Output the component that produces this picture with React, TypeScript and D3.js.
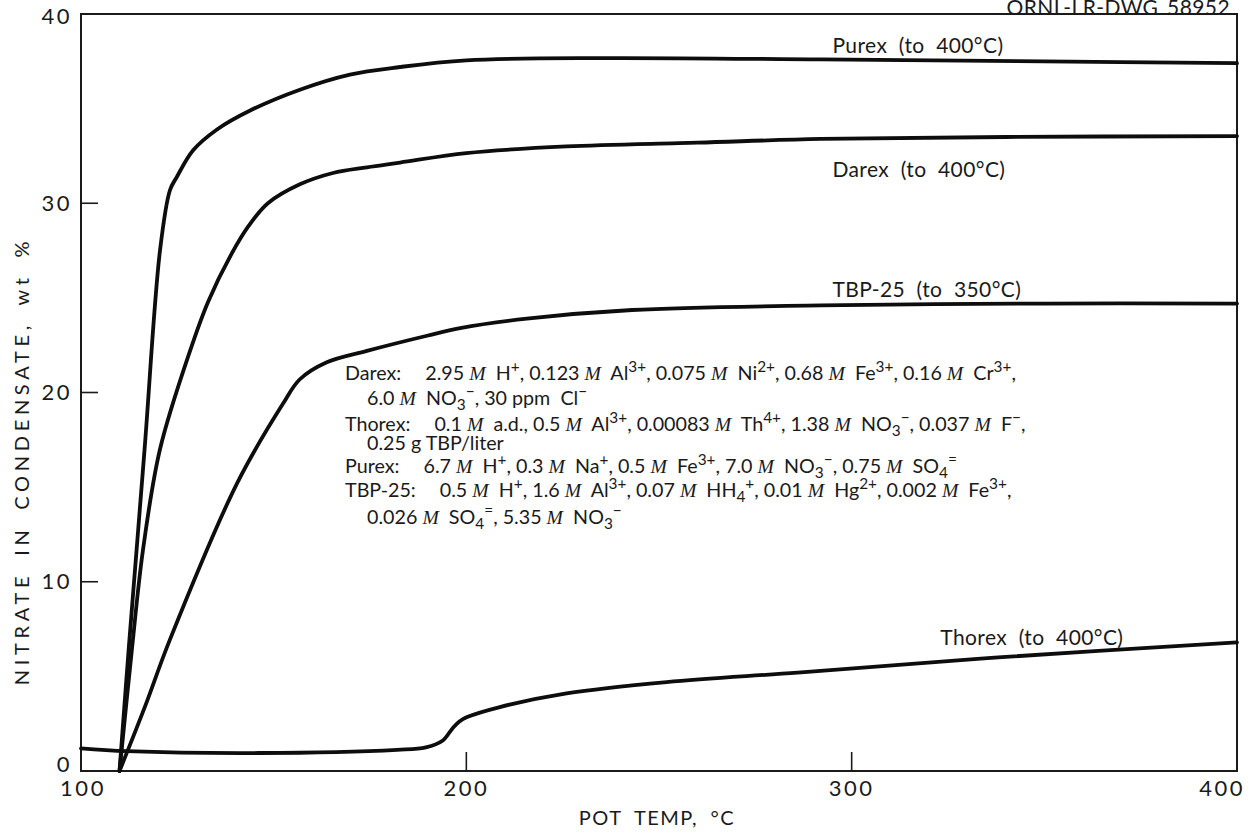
import React from 'react';
import * as d3 from 'd3';

// ---- data ----
const purexTemp = [110, 112.4, 116.5, 120.5, 123.1, 124.9, 129.1, 135.3, 143.9, 156.8, 169.8, 182.8, 200, 235, 292, 350, 400];
const purexNitrate = [0, 6.5, 17, 27.5, 30.7, 31.4, 32.8, 33.9, 34.9, 36.0, 36.8, 37.2, 37.55, 37.67, 37.6, 37.5, 37.4];

const darexTemp = [110, 113.2, 116.1, 120.5, 128.3, 133, 139, 143.5, 148.5, 156.8, 165.4, 174.2, 182.8, 200, 226, 260, 292, 340, 400];
const darexNitrate = [0, 6.4, 11.7, 17, 22.2, 24.8, 27.3, 28.8, 30.0, 31.0, 31.6, 31.9, 32.15, 32.65, 33.0, 33.2, 33.4, 33.5, 33.55];

const tbpTemp = [110, 116.6, 123, 140.5, 152.4, 156.8, 163.8, 174.2, 189.8, 198.4, 215.7, 243, 292, 350, 400];
const tbpNitrate = [0, 3.4, 6.9, 15.2, 19.4, 20.7, 21.6, 22.2, 23.0, 23.4, 23.9, 24.36, 24.6, 24.7, 24.7];

const thorexTemp = [100, 112, 146, 182, 189.5, 193.8, 196.4, 198.2, 200.2, 208.7, 226, 252, 286, 338, 400];
const thorexNitrate = [1.2, 1.05, 0.95, 1.12, 1.25, 1.6, 2.25, 2.62, 2.85, 3.38, 4.1, 4.7, 5.2, 6.0, 6.8];

const xTicks = [100, 200, 300, 400];
const yTicks = [0, 10, 20, 30, 40];

const seriesNames = ['Purex  (to  400°C)', 'Darex  (to  400°C)', 'TBP-25  (to  350°C)', 'Thorex  (to  400°C)'];
// label anchors in data units [temp, wt%]
const labelTemps = [295, 295, 295, 323];
const labelValues = [37.95, 31.4, 25.05, 6.66];

// {T} = wide gap after the heading, leading "  " = indented continuation line
const noteLines = [
  'Darex:{T}2.95 {M}  H^{+}, 0.123 {M}  Al^{3+}, 0.075 {M}  Ni^{2+}, 0.68 {M}  Fe^{3+}, 0.16 {M}  Cr^{3+},',
  '  6.0 {M}  NO_{3}^{−}, 30 ppm  Cl^{−}',
  'Thorex:{T}0.1 {M}  a.d., 0.5 {M}  Al^{3+}, 0.00083 {M}  Th^{4+}, 1.38 {M}  NO_{3}^{−}, 0.037 {M}  F^{−},',
  '  0.25 g TBP/liter',
  'Purex:{T}6.7 {M}  H^{+}, 0.3 {M}  Na^{+}, 0.5 {M}  Fe^{3+}, 7.0 {M}  NO_{3}^{−}, 0.75 {M}  SO_{4}^{=}',
  'TBP-25:{T}0.5 {M}  H^{+}, 1.6 {M}  Al^{3+}, 0.07 {M}  HH_{4}^{+}, 0.01 {M}  Hg^{2+}, 0.002 {M}  Fe^{3+},',
  '  0.026 {M}  SO_{4}^{=}, 5.35 {M}  NO_{3}^{−}',
];
const noteBaselines = [380, 405, 431, 450, 473, 497, 524];

const FONT = 'Lato, "Open Sans", sans-serif';
const INK = '#1a1a1a';

type Tok = { t: string; k: 'n' | 'm' | 'sup' | 'sub' | 'gap' };
function parse(s: string): Tok[] {
  const parts = s.split(/(\{M\}|\{T\}|\^\{[^}]*\}|_\{[^}]*\})/).filter((p) => p.length);
  return parts.map((p) => {
    if (p === '{M}') return { t: 'M', k: 'm' };
    if (p === '{T}') return { t: '', k: 'gap' };
    if (p.startsWith('^{')) return { t: p.slice(2, -1), k: 'sup' };
    if (p.startsWith('_{')) return { t: p.slice(2, -1), k: 'sub' };
    return { t: p, k: 'n' };
  });
}

function Rich({ s, x, y, size }: { s: string; x: number; y: number; size: number }) {
  const indented = s.startsWith('  ');
  const toks = parse(indented ? s.slice(2) : s);
  let cur = 0;
  let pendingDx = 0;
  return (
    <text
      x={x + (indented ? 22 : 0)}
      y={y}
      fontFamily={FONT}
      fontSize={size}
      fill={INK}
      xmlSpace="preserve"
      style={{ whiteSpace: 'pre' }}
    >
      {toks.map((tk, i) => {
        if (tk.k === 'gap') {
          pendingDx = 24;
          return null;
        }
        const off = tk.k === 'sup' ? -8 : tk.k === 'sub' ? 5 : 0;
        const dy = off - cur;
        cur = off;
        const dx = pendingDx;
        pendingDx = 0;
        if (tk.k === 'm')
          return (
            <tspan key={i} dx={dx || undefined} dy={dy} fontFamily='"Liberation Serif", serif' fontStyle="italic">
              {tk.t}
            </tspan>
          );
        return (
          <tspan key={i} dx={dx || undefined} dy={dy} fontSize={tk.k === 'n' ? size : size * 0.78}>
            {tk.t}
          </tspan>
        );
      })}
    </text>
  );
}

export default function App() {
  const W = 1259;
  const H = 833;
  const x = d3.scaleLinear().domain([100, 400]).range([81, 1237]);
  const y = d3.scaleLinear().domain([0, 40]).range([771, 14]);

  const line = d3
    .line<[number, number]>()
    .x((d) => x(d[0]))
    .y((d) => y(d[1]))
    .curve(d3.curveCatmullRom.alpha(0.5));

  const series: [number[], number[]][] = [
    [purexTemp, purexNitrate],
    [darexTemp, darexNitrate],
    [tbpTemp, tbpNitrate],
    [thorexTemp, thorexNitrate],
  ];

  return (
    <svg
      width={W}
      height={H}
      viewBox={`0 0 ${W} ${H}`}
      style={{ position: 'absolute', left: 0, top: 0, background: '#fff' }}
    >
      <rect x={0} y={0} width={W} height={H} fill="#fff" />
      {/* frame */}
      <rect
        x={x(100)}
        y={y(40)}
        width={x(400) - x(100)}
        height={y(0) - y(40)}
        fill="none"
        stroke={INK}
        strokeWidth={2}
      />
      {/* ticks */}
      {yTicks
        .filter((v) => v > 0 && v < 40)
        .map((v) => (
          <line key={'yt' + v} x1={x(100)} x2={x(100) + 17} y1={y(v)} y2={y(v)} stroke={INK} strokeWidth={1.6} />
        ))}
      {xTicks
        .filter((v) => v > 100 && v < 400)
        .map((v) => (
          <line key={'xt' + v} x1={x(v)} x2={x(v)} y1={y(0)} y2={y(0) - 19} stroke={INK} strokeWidth={1.6} />
        ))}
      {/* y tick labels */}
      {yTicks.map((v) => (
        <text
          key={'yl' + v}
          x={x(100) - 9}
          y={y(v) + (v === 0 ? -8 : v === 40 ? 1.5 : -1)}
          textAnchor="end"
          dominantBaseline="central"
          fontFamily={FONT}
          fontSize={22}
          letterSpacing={2.5}
          fill={INK}
        >
          {v}
        </text>
      ))}
      {/* x tick labels */}
      {xTicks.map((v) => (
        <text
          key={'xl' + v}
          x={v === 400 ? x(v) + 8 : x(v) + (v === 100 ? 2 : 0)}
          y={y(0) + 25}
          textAnchor={v === 400 ? 'end' : 'middle'}
          fontFamily={FONT}
          fontSize={22}
          letterSpacing={2.5}
          fill={INK}
        >
          {v}
        </text>
      ))}
      {/* axis titles */}
      <text
        x={657}
        y={825}
        textAnchor="middle"
        fontFamily={FONT}
        fontSize={20}
        letterSpacing={1.5}
        wordSpacing={6}
        fill={INK}
      >
        POT TEMP, °C
      </text>
      <text
        transform="translate(29,461) rotate(-90)"
        textAnchor="middle"
        fontFamily={FONT}
        fontSize={20}
        letterSpacing={4.7}
        wordSpacing={6}
        fill={INK}
      >
        NITRATE IN CONDENSATE, wt %
      </text>
      <text
        x={1230}
        y={15}
        textAnchor="end"
        fontFamily={FONT}
        fontSize={21}
        letterSpacing={0.4}
        wordSpacing={3}
        fill={INK}
      >
        ORNL-LR-DWG 58952
      </text>
      {/* curves */}
      {series.map(([ts, vs], i) => (
        <path
          key={'s' + i}
          d={line(ts.map((t, j) => [t, vs[j]] as [number, number])) || ''}
          fill="none"
          stroke="#0d0d0d"
          strokeWidth={3.8}
          strokeLinejoin="round"
          strokeLinecap="round"
        />
      ))}
      {/* curve labels */}
      {seriesNames.map((n, i) => (
        <text
          key={'lab' + i}
          x={x(labelTemps[i])}
          y={y(labelValues[i])}
          fontFamily={FONT}
          fontSize={21}
          letterSpacing={0.4}
          fill={INK}
          xmlSpace="preserve"
          style={{ whiteSpace: 'pre' }}
        >
          {n}
        </text>
      ))}
      {/* composition notes */}
      {noteLines.map((s, i) => (
        <Rich key={'n' + i} s={s} x={345} y={noteBaselines[i]} size={19.7} />
      ))}
    </svg>
  );
}
